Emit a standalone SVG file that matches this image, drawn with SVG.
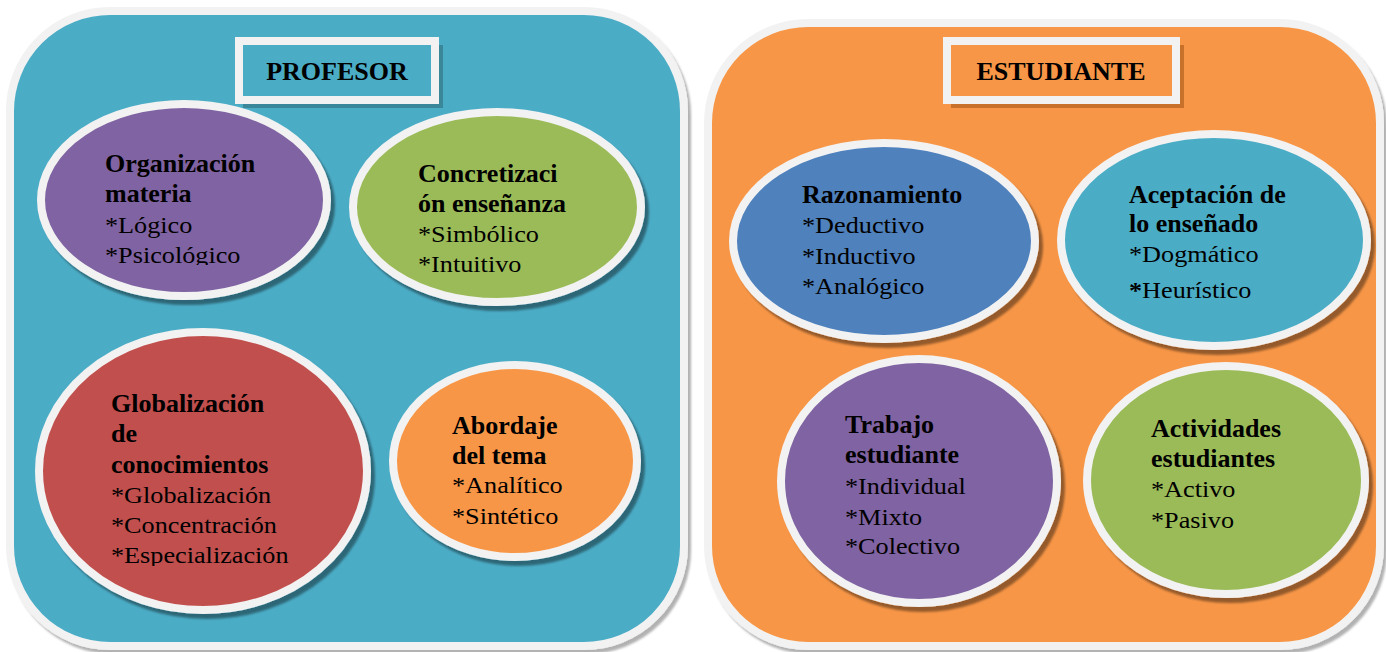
<svg xmlns="http://www.w3.org/2000/svg" width="1386" height="652" viewBox="0 0 1386 652">
<defs>
<style>
.panel{stroke:#F2F2F2;stroke-width:8}
.ell{stroke:#F2F2F2;stroke-width:8}
.b{font-family:"Liberation Serif","Times New Roman",serif;font-weight:bold;font-size:26px;fill:#000}
.r{font-family:"Liberation Serif","Times New Roman",serif;font-size:23px;fill:#000}
.t{font-family:"Liberation Serif","Times New Roman",serif;font-weight:bold;font-size:26px;fill:#000;text-anchor:middle}
</style>
<filter id="sh" x="-10%" y="-10%" width="125%" height="130%">
<feDropShadow dx="4" dy="5" stdDeviation="1.2" flood-color="#000" flood-opacity="0.4"/>
</filter>
<filter id="psh" x="-5%" y="-5%" width="110%" height="110%">
<feDropShadow dx="3" dy="4" stdDeviation="1.2" flood-color="#000" flood-opacity="0.3"/>
</filter>
<clipPath id="c1"><rect x="0" y="0" width="400" height="265"/></clipPath>
<clipPath id="c3"><rect x="0" y="300" width="400" height="266"/></clipPath>
</defs>

<g id="panel-profesor">
<rect class="panel" x="10" y="11" width="674" height="635" rx="100" ry="100" fill="#4BACC6" filter="url(#psh)"/>
</g>
<g id="panel-estudiante">
<rect class="panel" x="708" y="23" width="672" height="623" rx="100" ry="100" fill="#F79646" filter="url(#psh)"/>
</g>

<g id="title-profesor">
<rect x="243" y="45" width="200" height="63" fill="#3A8799"/>
<rect x="239" y="41" width="196" height="59" fill="#4BACC6" stroke="#F2F2F2" stroke-width="8"/>
<text class="t" x="337" y="80">PROFESOR</text>
</g>
<g id="title-estudiante">
<rect x="951" y="45" width="233" height="63" fill="#C8712A"/>
<rect x="947" y="41" width="229" height="59" fill="#F79646" stroke="#F2F2F2" stroke-width="8"/>
<text class="t" x="1061" y="80">ESTUDIANTE</text>
</g>

<g id="node-organizacion">
<ellipse class="ell" cx="184" cy="200" rx="143" ry="96" fill="#8064A2" filter="url(#sh)"/>
<g clip-path="url(#c1)">
<text class="b" x="105" y="172">Organización</text>
<text class="b" x="105" y="202">materia</text>
<text class="r" transform="translate(105 233) scale(1.14 1)">*Lógico</text>
<text class="r" transform="translate(105 263) scale(1.14 1)">*Psicológico</text>
</g>
</g>

<g id="node-concretizacion">
<ellipse class="ell" cx="497" cy="207" rx="144" ry="95" fill="#9BBB59" filter="url(#sh)"/>
<text class="b" x="418" y="182">Concretizaci</text>
<text class="b" x="418" y="212">ón enseñanza</text>
<text class="r" transform="translate(418 242) scale(1.14 1)">*Simbólico</text>
<text class="r" transform="translate(418 272) scale(1.14 1)">*Intuitivo</text>
</g>

<g id="node-globalizacion">
<ellipse class="ell" cx="203" cy="471" rx="164" ry="139" fill="#C0504D" filter="url(#sh)"/>
<g clip-path="url(#c3)">
<text class="b" x="111" y="412">Globalización</text>
<text class="b" x="111" y="442">de</text>
<text class="b" x="111" y="473">conocimientos</text>
<text class="r" transform="translate(111 503) scale(1.14 1)">*Globalización</text>
<text class="r" transform="translate(111 533) scale(1.14 1)">*Concentración</text>
<text class="r" transform="translate(111 563) scale(1.14 1)">*Especialización</text>
</g>
</g>

<g id="node-abordaje">
<ellipse class="ell" cx="515" cy="461" rx="122" ry="96" fill="#F79646" filter="url(#sh)"/>
<text class="b" x="452" y="434">Abordaje</text>
<text class="b" x="452" y="464">del tema</text>
<text class="r" transform="translate(452 493) scale(1.14 1)">*Analítico</text>
<text class="r" transform="translate(452 524) scale(1.14 1)">*Sintético</text>
</g>

<g id="node-razonamiento">
<ellipse class="ell" cx="884" cy="241" rx="151" ry="98" fill="#4F81BD" filter="url(#sh)"/>
<text class="b" x="802" y="203">Razonamiento</text>
<text class="r" transform="translate(802 233) scale(1.14 1)">*Deductivo</text>
<text class="r" transform="translate(802 264) scale(1.14 1)">*Inductivo</text>
<text class="r" transform="translate(802 294) scale(1.14 1)">*Analógico</text>
</g>

<g id="node-aceptacion">
<ellipse class="ell" cx="1214" cy="240" rx="153" ry="106" fill="#4BACC6" filter="url(#sh)"/>
<text class="b" x="1129" y="203">Aceptación de</text>
<text class="b" x="1129" y="232">lo enseñado</text>
<text class="r" transform="translate(1129 262) scale(1.14 1)">*Dogmático</text>
<text class="r" transform="translate(1129 298) scale(1.14 1)"><tspan font-weight="bold">*</tspan>Heurístico</text>
</g>

<g id="node-trabajo">
<ellipse class="ell" cx="919" cy="481" rx="138" ry="122" fill="#8064A2" filter="url(#sh)"/>
<text class="b" x="845" y="433">Trabajo</text>
<text class="b" x="845" y="463">estudiante</text>
<text class="r" transform="translate(845 494) scale(1.14 1)">*Individual</text>
<text class="r" transform="translate(845 525) scale(1.14 1)">*Mixto</text>
<text class="r" transform="translate(845 554) scale(1.14 1)">*Colectivo</text>
</g>

<g id="node-actividades">
<ellipse class="ell" cx="1226" cy="480" rx="139" ry="114" fill="#9BBB59" filter="url(#sh)"/>
<text class="b" x="1151" y="437">Actividades</text>
<text class="b" x="1151" y="467">estudiantes</text>
<text class="r" transform="translate(1151 497) scale(1.14 1)">*Activo</text>
<text class="r" transform="translate(1151 528) scale(1.14 1)">*Pasivo</text>
</g>

<g id="connectors"></g>
</svg>
